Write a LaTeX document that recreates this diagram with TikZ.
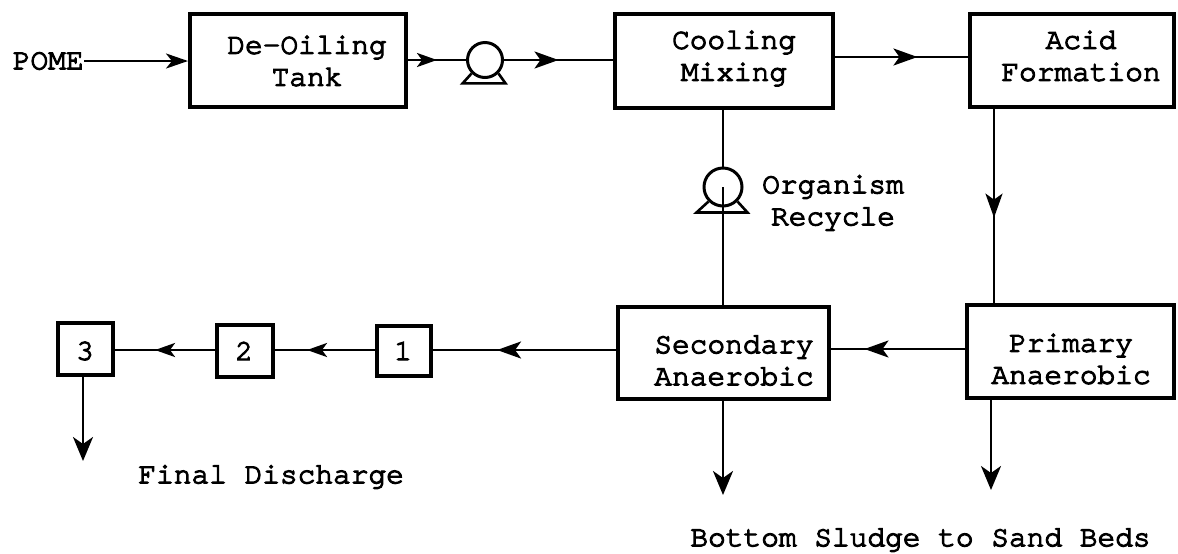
\documentclass[tikz,border=0pt]{standalone}
\usepackage{fontspec}
\newfontfamily\mono[FakeBold=4]{TeX Gyre Cursor}
\usetikzlibrary{arrows.meta,decorations.markings}
\begin{document}
\begin{tikzpicture}[x=0.5pt,y=-0.5pt,
  box/.style={draw, line width=2pt, inner sep=0pt},
  pump/.style={draw, circle, line width=1.5pt, inner sep=0pt},
  conn/.style={line width=1.3pt},
  txt/.style={font=\mono\fontsize{14.75pt}{16pt}\selectfont, inner sep=0pt, align=center},
  midarrow/.style={postaction={decorate}, decoration={markings, mark=at position #1 with {\arrow{Stealth[length=12pt,width=8.5pt,inset=3pt]}}}},
  smallarrow/.style={postaction={decorate}, decoration={markings, mark=at position #1 with {\arrow{Stealth[length=10pt,width=7pt,inset=2.5pt]}}}},
  outarrow/.style={-{Stealth[length=12pt,width=10pt,inset=3.5pt]}}
]
\useasboundingbox (0,0) rectangle (1178,553);

% boxes
\node[box, minimum width=108pt, minimum height=46.5pt] (deoil) at (298,60.5) {};
\node[box, minimum width=109pt, minimum height=47pt] (cool) at (724,61) {};
\node[box, minimum width=102pt, minimum height=46.5pt] (acid) at (1072,60.5) {};
\node[box, minimum width=105.5pt, minimum height=46pt] (sec) at (723.5,353) {};
\node[box, minimum width=103.5pt, minimum height=46.5pt] (prim) at (1070.5,351.5) {};
\node[box, minimum width=27.5pt, minimum height=26pt] (b3) at (85.5,349) {};
\node[box, minimum width=28pt, minimum height=26pt] (b2) at (245,351) {};
\node[box, minimum width=27pt, minimum height=25pt] (b1) at (404,351) {};

% box texts
\node[txt] (deoilt) at (307,61) {De-Oiling\\Tank};
\node[txt] (coolt) at (734,58.5) {Cooling\\Mixing};
\node[txt] (acidt) at (1081,56) {Acid\\Formation};
\node[txt] (sect) at (734,360.5) {Secondary\\Anaerobic};
\node[txt] (primt) at (1071,359) {Primary\\Anaerobic};
\node[txt] (b3t) at (85,351) {3};
\node[txt] (b2t) at (244,351) {2};
\node[txt] (b1t) at (403,351) {1};

% other texts
\node[txt, anchor=east] (pome) at (84,61) {POME};
\node[txt] (rect) at (833,203) {Organism\\Recycle};
\node[txt, anchor=west] (fin) at (138,477) {Final Discharge};
\node[txt, anchor=west] (sludge) at (690,540) {Bottom Sludge to Sand Beds};

% pumps
\node[pump, minimum size=17.5pt] (pump1) at (485,60) {};
\node[pump, minimum size=19pt] (pump2) at (723,187) {};
\draw[conn] (pump1.-135) -- ++(-9,10) -- ++(43,0) -- (pump1.-45);
\draw[conn] (pump2.-135) -- ++(-12,11) -- ++(51,0) -- (pump2.-45);

% helper coordinates
\coordinate (xA) at (994,0);
\coordinate (yP) at (0,349);
\coordinate (yL) at (0,350);
\coordinate (yC) at (0,57);
\coordinate (fd) at (83,461);
\coordinate (sd1) at (723,495);
\coordinate (sd2) at (991,490);

% top flow
\draw[conn, -{Stealth[length=11pt,width=7.5pt,inset=3pt]}] (pome.east) -- (pome.east -| deoil.west);
\draw[conn, smallarrow=0.5] (deoil.east |- pump1.west) -- (pump1.west);
\draw[conn, midarrow=0.5] (pump1.east) -- (pump1.east -| cool.west);
\draw[conn, midarrow=0.62] (cool.east |- yC) -- (acid.west |- yC);
\draw[conn, midarrow=0.56] (acid.south -| xA) -- (prim.north -| xA);

% bottom flow
\draw[conn, midarrow=0.75] (prim.west |- yP) -- (sec.east |- yP);
\draw[conn, midarrow=0.65] (sec.west |- yL) -- (b1.east |- yL);
\draw[conn, smallarrow=0.68] (b1.west |- yL) -- (b2.east |- yL);
\draw[conn, smallarrow=0.6] (b2.west |- yL) -- (b3.east |- yL);

% recycle
\draw[conn] (cool.south -| pump2) -- (pump2.north);
\draw[conn] (sec.north -| pump2) -- (pump2.center);

% discharges
\draw[conn, outarrow] (b3.south -| fd) -- (fd);
\draw[conn, outarrow] (sec.south -| sd1) -- (sd1);
\draw[conn, outarrow] (prim.south -| sd2) -- (sd2);
\end{tikzpicture}
\end{document}
